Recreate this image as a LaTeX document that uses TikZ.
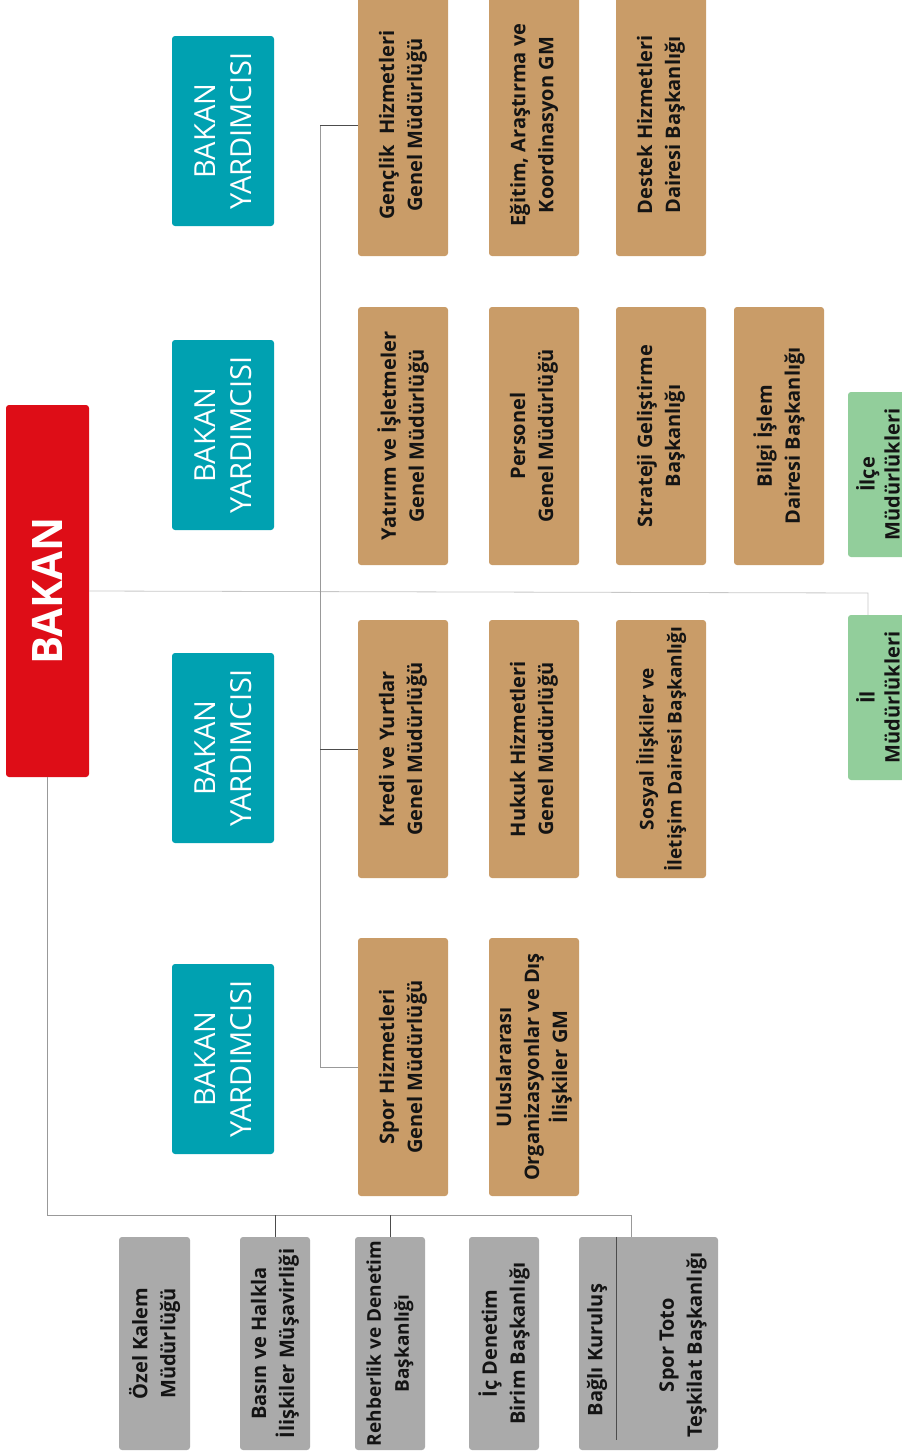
\documentclass[tikz,border=0pt]{standalone}
\usepackage{fontspec}
\setmainfont{Open Sans}
\definecolor{bakanred}{RGB}{222,13,23}
\definecolor{yrdteal}{RGB}{0,161,177}
\definecolor{gmtan}{RGB}{201,156,104}
\definecolor{ilgreen}{RGB}{146,206,155}
\definecolor{birimgray}{RGB}{170,170,170}
\definecolor{kututext}{RGB}{20,20,20}
\tikzset{
  kutu/.style={rotate=90, rounded corners=3pt, inner sep=1pt, align=center},
  bakanbox/.style={kutu, fill=bakanred, text=white, font=\bfseries\fontsize{42}{48}\selectfont, minimum width=372pt, minimum height=83pt},
  yrdbox/.style={kutu, fill=yrdteal, text=white, font=\fontsize{29}{36}\selectfont, minimum width=190pt, minimum height=102pt},
  gmbox/.style={kutu, fill=gmtan, text=kututext, font=\bfseries\fontsize{20}{28}\selectfont, minimum width=258pt, minimum height=90pt},
  ilbox/.style={kutu, fill=ilgreen, text=kututext, font=\bfseries\fontsize{20}{25}\selectfont, minimum width=165pt, minimum height=60pt},
  birimbox/.style={kutu, fill=birimgray, text=kututext, font=\bfseries\fontsize{20}{28}\selectfont, minimum width=213pt, minimum height=71pt},
  birimtext/.style={rotate=90, align=center, inner sep=0pt, text=kututext, font=\bfseries\fontsize{20}{28}\selectfont},
  baglinesoft/.style={draw=black!22, line width=0.8pt},
  baglinemid/.style={draw=black!40, line width=0.8pt},
  baglinedark/.style={draw=black!70, line width=0.8pt}
}
\begin{document}
\begin{tikzpicture}[x=1pt,y=-1pt]
    \useasboundingbox (0,0) rectangle (902,1454);

    % Bakan
    \node[bakanbox] (bakan) at (47.5,591) {BAKAN};

    % Bakan yardimcilari
    \foreach \i/\y in {1/131,2/435,3/748,4/1059}
    {\node[yrdbox] (yrd\i) at (223,\y) {BAKAN\\YARDIMCISI};}

    % Genel mudurlukler ve baskanliklar
    \node[gmbox, minimum width=262pt] (genclik) at (403,125) {Gençlik~~Hizmetleri\\Genel Müdürlüğü};
    \node[gmbox, minimum width=262pt] (egitim) at (534,125) {Eğitim, Araştırma ve\\Koordinasyon GM};
    \node[gmbox, minimum width=262pt] (destek) at (661,125) {Destek Hizmetleri\\Dairesi Başkanlığı};

    \node[gmbox] (yatirim) at (403,436) {Yatırım ve İşletmeler\\Genel Müdürlüğü};
    \node[gmbox] (personel) at (534,436) {Personel\\Genel Müdürlüğü};
    \node[gmbox] (strateji) at (661,436) {Strateji Geliştirme\\Başkanlığı};
    \node[gmbox] (bilgi) at (779,436) {Bilgi İşlem\\Dairesi Başkanlığı};

    \node[gmbox] (kredi) at (403,749) {Kredi ve Yurtlar\\Genel Müdürlüğü};
    \node[gmbox] (hukuk) at (534,749) {Hukuk Hizmetleri\\Genel Müdürlüğü};
    \node[gmbox, inner sep=0pt, font=\bfseries\fontsize{19}{28}\selectfont] (sosyal) at (661,749) {Sosyal İlişkiler ve\\İletişim Dairesi Başkanlığı};

    \node[gmbox] (spor) at (403,1067) {Spor Hizmetleri\\Genel Müdürlüğü};
    \node[gmbox] (uluslar) at (534,1067) {Uluslararası\\Organizasyonlar ve Dış\\İlişkiler GM};

    % Tasra
    \node[ilbox] (ilce) at (878,474.5) {İlçe\\Müdürlükleri};
    \node[ilbox] (il) at (878,697.5) {İl\\Müdürlükleri};

    % Birimler
    \node[birimbox] (ozel) at (154.5,1343.5) {Özel Kalem\\Müdürlüğü};
    \node[birimbox, minimum height=70pt] (basin) at (275,1343.5) {Basın ve Halkla\\İlişkiler Müşavirliği};
    \node[birimbox, minimum height=70pt, inner sep=0pt, font=\bfseries\fontsize{19}{28}\selectfont] (rehber) at (390,1343.5) {Rehberlik ve Denetim\\Başkanlığı};
    \node[birimbox, minimum height=70pt] (icden) at (504,1343.5) {İç Denetim\\Birim Başkanlığı};
    \node[birimbox, minimum height=139pt] (bagli) at (648.5,1343.5) {};
    \node[birimtext] (baglitxt) at (597,1350) {Bağlı Kuruluş};
    \node[birimtext] (sportoto) at (683,1345) {Spor Toto\\Teşkilat Başkanlığı};

    % Baglantilar
    \coordinate (ilup) at (868,593);
    \coordinate (gmspine) at (320,0);
    \coordinate (busR) at (631,1215);
    \coordinate (seam) at (616,1440);

    \draw[baglinesoft] (bakan.south) -- (ilup) -- (ilup |- il.east);
    \draw[baglinemid] (genclik.north -| gmspine) -- (spor.north -| gmspine);
    \draw[baglinedark] (genclik.north) -- (genclik.north -| gmspine);
    \draw[baglinedark] (kredi.north) -- (kredi.north -| gmspine);
    \draw[baglinemid] (spor.north) -- (spor.north -| gmspine);

    \draw[baglinemid] (bakan.west) |- (busR) -- (busR |- bagli.east);
    \draw[baglinedark] (basin.east |- busR) -- (basin.east);
    \draw[baglinedark] (rehber.east |- busR) -- (rehber.east);
    \draw[baglinedark] (seam |- bagli.east) -- (seam);
\end{tikzpicture}
\end{document}
